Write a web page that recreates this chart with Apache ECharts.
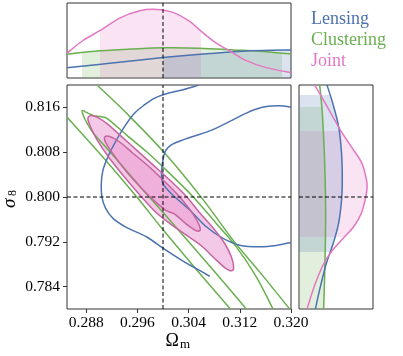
<!DOCTYPE html>
<html><head><meta charset="utf-8">
<script src="https://cdn.jsdelivr.net/npm/echarts@6/dist/echarts.min.js"></script>
<style>html,body{margin:0;padding:0;background:#fff}#c{width:403px;height:356px}</style>
</head><body><div id="c"></div>
<script>
// ---------------- data ----------------
const omegaRange = [0.285, 0.320];
const sigmaRange = [0.780, 0.820];
const omegaTicks = [0.288, 0.296, 0.304, 0.312, 0.320];
const sigmaTicks = [0.784, 0.792, 0.800, 0.808, 0.816];
const truthOmega = 0.300;
const truthSigma = 0.800;
const legendNames = ['Lensing', 'Clustering', 'Joint'];

// 2D contours [Ωm, σ8]
const lensingOuter = [[0.30563,0.82000],[0.30313,0.81916],[0.30052,0.81845],[0.29870,0.81767],[0.29714,0.81648],[0.29557,0.81499],[0.29401,0.81260],[0.29260,0.80991],[0.29141,0.80722],[0.29063,0.80484],[0.29036,0.80245],[0.29047,0.79994],[0.29104,0.79797],[0.29219,0.79618],[0.29427,0.79457],[0.29740,0.79290],[0.30005,0.79081],[0.30313,0.78854],[0.30521,0.78722],[0.30729,0.78585]];
const lensingInner = [[0.32000,0.81606],[0.31823,0.81630],[0.31615,0.81618],[0.31458,0.81570],[0.31302,0.81499],[0.31146,0.81409],[0.30990,0.81319],[0.30833,0.81230],[0.30677,0.81158],[0.30469,0.81081],[0.30286,0.81009],[0.30130,0.80931],[0.30042,0.80830],[0.30010,0.80722],[0.29984,0.80543],[0.29979,0.80364],[0.30010,0.80215],[0.30151,0.80036],[0.30417,0.79767],[0.30677,0.79469],[0.30932,0.79266],[0.31198,0.79140],[0.31510,0.79110],[0.31771,0.79134],[0.32000,0.79188]];
const clusteringOuterLow = [[0.28500,0.81427],[0.29063,0.80710],[0.29594,0.79994],[0.30005,0.79409],[0.30521,0.78705],[0.31052,0.78000]];
const clusteringOuterHigh = [[0.28969,0.82000],[0.29427,0.81499],[0.30005,0.80812],[0.30599,0.79994],[0.31094,0.79230],[0.31510,0.78663],[0.31979,0.78000]];
const clusteringInner = [[0.31302,0.78000],[0.30885,0.78561],[0.30469,0.79110],[0.30005,0.79719],[0.29688,0.80125],[0.29167,0.80812],[0.28932,0.81110],[0.28813,0.81319],[0.28750,0.81469],[0.28740,0.81546],[0.28792,0.81516],[0.28906,0.81457],[0.29036,0.81433],[0.29141,0.81391],[0.29427,0.81110],[0.29740,0.80812],[0.30005,0.80531],[0.30469,0.80006],[0.30833,0.79528],[0.31146,0.79110],[0.31458,0.78573],[0.31719,0.78000]];
const jointOuter = [[0.28833,0.81427],[0.28885,0.81457],[0.28969,0.81427],[0.29115,0.81319],[0.29323,0.81110],[0.29583,0.80842],[0.29844,0.80573],[0.30104,0.80304],[0.30365,0.80010],[0.30573,0.79720],[0.30781,0.79450],[0.30964,0.79170],[0.31068,0.78931],[0.31104,0.78740],[0.31068,0.78681],[0.30964,0.78740],[0.30807,0.78902],[0.30599,0.79130],[0.30365,0.79320],[0.30104,0.79530],[0.29896,0.79720],[0.29688,0.79970],[0.29427,0.80316],[0.29167,0.80687],[0.28969,0.81021],[0.28865,0.81260],[0.28828,0.81379]];
const jointInner = [[0.29089,0.81069],[0.29167,0.81081],[0.29313,0.80991],[0.29531,0.80782],[0.29792,0.80531],[0.30000,0.80304],[0.30208,0.80066],[0.30406,0.79797],[0.30531,0.79576],[0.30583,0.79421],[0.30521,0.79397],[0.30365,0.79516],[0.30182,0.79696],[0.30052,0.79755],[0.29896,0.79899],[0.29688,0.80125],[0.29427,0.80454],[0.29219,0.80770],[0.29104,0.80973]];

// 1D marginals for Ωm [Ωm, density]
const topLensing = [[0.28500,0.138],[0.29167,0.196],[0.30000,0.272],[0.30729,0.326],[0.31354,0.362],[0.32000,0.375]];
const topClustering = [[0.28500,0.317],[0.29010,0.362],[0.29531,0.388],[0.30052,0.402],[0.30573,0.397],[0.31094,0.375],[0.31510,0.357],[0.32000,0.321]];
const topJoint = [[0.28500,0.330],[0.28750,0.500],[0.29021,0.634],[0.29323,0.799],[0.29635,0.897],[0.29896,0.915],[0.30156,0.875],[0.30417,0.754],[0.30599,0.621],[0.30833,0.464],[0.31042,0.362],[0.31302,0.232],[0.31615,0.138],[0.32000,0.071]];
const topLensingBand = [0.30000, 0.32000];
const topClusteringBand = [0.28740, 0.31865];
const topJointBand = [0.29021, 0.30599];

// 1D marginals for σ8 [density, σ8]
const rightLensing = [[0.378,0.82000],[0.455,0.81678],[0.535,0.81260],[0.575,0.80782],[0.585,0.80304],[0.575,0.79946],[0.535,0.79528],[0.462,0.79170],[0.369,0.78812],[0.288,0.78394],[0.221,0.78000]];
const rightClustering = [[0.279,0.82000],[0.315,0.81499],[0.347,0.80603],[0.360,0.79708],[0.351,0.78812],[0.333,0.78000]];
const rightJoint = [[0.212,0.82000],[0.302,0.81797],[0.430,0.81499],[0.570,0.81170],[0.720,0.80872],[0.850,0.80603],[0.912,0.80304],[0.919,0.80155],[0.901,0.79994],[0.842,0.79708],[0.739,0.79469],[0.595,0.79260],[0.437,0.79021],[0.324,0.78782],[0.212,0.78424],[0.108,0.78000]];
const rightLensingBand = [0.79021, 0.81827];
const rightClusteringBand = [0.78000, 0.81606];
const rightJointBand = [0.79278, 0.81170];

// ---------------- styles ----------------
const COL = { lensing: '#4c72b0', clustering: '#6aaf50', joint: '#e377c2', jointEdge: '#c5659f' };
const SERIF = "'Liberation Serif', 'DejaVu Serif', serif";

function fmt(p) { return p[0].toFixed(2) + ' ' + p[1].toFixed(2); }
function bezierTail(p, closed) {
  const n = p.length;
  const get = i => closed ? p[(i + n) % n] : p[Math.max(0, Math.min(n - 1, i))];
  const segs = closed ? n : n - 1;
  let d = '';
  for (let i = 0; i < segs; i++) {
    const p0 = get(i - 1), p1 = get(i), p2 = get(i + 1), p3 = get(i + 2);
    const c1 = [p1[0] + (p2[0] - p0[0]) / 6, p1[1] + (p2[1] - p0[1]) / 6];
    const c2 = [p2[0] - (p3[0] - p1[0]) / 6, p2[1] - (p3[1] - p1[1]) / 6];
    d += ' C' + fmt(c1) + ' ' + fmt(c2) + ' ' + fmt(p2);
  }
  return d;
}
function curve(grid, pts, closed, style) {
  return {
    type: 'custom', coordinateSystem: 'cartesian2d', xAxisIndex: grid, yAxisIndex: grid,
    clip: true, silent: true, data: pts,
    renderItem(params, api) {
      if (params.dataIndex !== 0) return null;
      const px = pts.map(p => api.coord(p));
      const d = 'M' + fmt(px[0]) + bezierTail(px, closed) + (closed ? ' Z' : '');
      return { type: 'path', shape: { pathData: d }, style: Object.assign({ fill: 'none' }, style) };
    }
  };
}
function clamp01(t) { return Math.max(0, Math.min(1, t)); }
function bandStops(t1, t2, color) {
  const tr = 'rgba(255,255,255,0)';
  return [{ offset: 0, color: tr }, { offset: t1, color: tr }, { offset: t1, color: color },
          { offset: t2, color: color }, { offset: t2, color: tr }, { offset: 1, color: tr }];
}
function topFill(pts, band, color) {
  return {
    type: 'custom', coordinateSystem: 'cartesian2d', xAxisIndex: 1, yAxisIndex: 1,
    clip: true, silent: true, data: pts,
    renderItem(params, api) {
      if (params.dataIndex !== 0) return null;
      const px = pts.map(p => api.coord(p));
      const b0 = api.coord([pts[0][0], 0]), b1 = api.coord([pts[pts.length - 1][0], 0]);
      const d = 'M' + fmt(b0) + ' L' + fmt(px[0]) + bezierTail(px, false) + ' L' + fmt(b1) + ' Z';
      const L = api.coord([omegaRange[0], 0])[0], R = api.coord([omegaRange[1], 0])[0];
      const t1 = clamp01((api.coord([band[0], 0])[0] - L) / (R - L));
      const t2 = clamp01((api.coord([band[1], 0])[0] - L) / (R - L));
      const g = new echarts.graphic.LinearGradient(L, 0, R, 0, bandStops(t1, t2, color), true);
      return { type: 'path', shape: { pathData: d }, style: { fill: g, stroke: 'none' } };
    }
  };
}
function rightFill(pts, band, color) {
  return {
    type: 'custom', coordinateSystem: 'cartesian2d', xAxisIndex: 2, yAxisIndex: 2,
    clip: true, silent: true, data: pts,
    renderItem(params, api) {
      if (params.dataIndex !== 0) return null;
      const px = pts.map(p => api.coord(p));
      const b0 = api.coord([0, pts[0][1]]), b1 = api.coord([0, pts[pts.length - 1][1]]);
      const d = 'M' + fmt(b0) + ' L' + fmt(px[0]) + bezierTail(px, false) + ' L' + fmt(b1) + ' Z';
      const T = api.coord([0, sigmaRange[1]])[1], B = api.coord([0, sigmaRange[0]])[1];
      const t1 = clamp01((api.coord([0, band[1]])[1] - T) / (B - T));
      const t2 = clamp01((api.coord([0, band[0]])[1] - T) / (B - T));
      const g = new echarts.graphic.LinearGradient(0, T, 0, B, bandStops(t1, t2, color), true);
      return { type: 'path', shape: { pathData: d }, style: { fill: g, stroke: 'none' } };
    }
  };
}
const dashStyle = { stroke: '#000', lineWidth: 1, lineDash: [4, 2.5] };
function refLines(grid, vx, vy, xr, yr) {
  return {
    type: 'custom', coordinateSystem: 'cartesian2d', xAxisIndex: grid, yAxisIndex: grid,
    clip: true, silent: true, z: 5, data: [[xr[0], yr[0]]],
    renderItem(params, api) {
      const ch = [];
      if (vx !== null) {
        const a = api.coord([vx, yr[0]]), b = api.coord([vx, yr[1]]);
        ch.push({ type: 'line', shape: { x1: a[0], y1: a[1], x2: b[0], y2: b[1] }, style: dashStyle });
      }
      if (vy !== null) {
        const a = api.coord([xr[0], vy]), b = api.coord([xr[1], vy]);
        ch.push({ type: 'line', shape: { x1: a[0], y1: a[1], x2: b[0], y2: b[1] }, style: dashStyle });
      }
      return { type: 'group', children: ch };
    }
  };
}

const lw = 1.5;
const series = [
  // main panel
  curve(0, jointOuter, true, { fill: 'rgba(227,119,194,0.40)', stroke: 'none' }),
  curve(0, jointInner, true, { fill: 'rgba(227,119,194,0.30)', stroke: 'none' }),
  curve(0, clusteringOuterLow, false, { stroke: COL.clustering, lineWidth: lw }),
  curve(0, clusteringOuterHigh, false, { stroke: COL.clustering, lineWidth: lw }),
  curve(0, clusteringInner, false, { stroke: COL.clustering, lineWidth: lw }),
  curve(0, lensingOuter, false, { stroke: COL.lensing, lineWidth: lw }),
  curve(0, lensingInner, false, { stroke: COL.lensing, lineWidth: lw }),
  curve(0, jointOuter, true, { stroke: COL.jointEdge, lineWidth: lw }),
  curve(0, jointInner, true, { stroke: COL.jointEdge, lineWidth: lw }),
  refLines(0, truthOmega, truthSigma, omegaRange, sigmaRange),
  // top panel
  topFill(topClustering, topClusteringBand, 'rgba(106,175,80,0.2)'),
  topFill(topJoint, topJointBand, 'rgba(227,119,194,0.2)'),
  topFill(topLensing, topLensingBand, 'rgba(76,114,176,0.2)'),
  curve(1, topClustering, false, { stroke: COL.clustering, lineWidth: lw }),
  curve(1, topLensing, false, { stroke: COL.lensing, lineWidth: lw }),
  curve(1, topJoint, false, { stroke: COL.joint, lineWidth: lw }),
  refLines(1, truthOmega, null, omegaRange, [0, 1]),
  // right panel
  rightFill(rightClustering, rightClusteringBand, 'rgba(106,175,80,0.2)'),
  rightFill(rightJoint, rightJointBand, 'rgba(227,119,194,0.2)'),
  rightFill(rightLensing, rightLensingBand, 'rgba(76,114,176,0.2)'),
  curve(2, rightClustering, false, { stroke: COL.clustering, lineWidth: lw }),
  curve(2, rightLensing, false, { stroke: COL.lensing, lineWidth: lw }),
  curve(2, rightJoint, false, { stroke: COL.joint, lineWidth: lw }),
  refLines(2, null, truthSigma, [0, 1], sigmaRange)
];

const gridBase = { show: true, borderColor: '#333', borderWidth: 1, backgroundColor: 'transparent', containLabel: false, outerBoundsMode: 'none' };
const labelStyle = { fontFamily: SERIF, fontSize: 15.5, color: '#000' };
const hidden = { axisLine: { show: false }, axisTick: { show: false }, axisLabel: { show: false }, splitLine: { show: false } };

const option = {
  animation: false,
  backgroundColor: '#fff',
  grid: [
    Object.assign({ left: 67, top: 85, width: 224, height: 224 }, gridBase),
    Object.assign({ left: 67, top: 3, width: 224, height: 75 }, gridBase),
    Object.assign({ left: 299, top: 85, width: 74, height: 224 }, gridBase)
  ],
  xAxis: [
    { gridIndex: 0, type: 'value', min: omegaRange[0], max: omegaRange[1],
      axisLine: { show: false }, splitLine: { show: false },
      axisTick: { show: true, customValues: omegaTicks, length: 4, lineStyle: { color: '#333' } },
      axisLabel: Object.assign({ show: true, customValues: omegaTicks, margin: 6, formatter: v => v.toFixed(3) }, labelStyle) },
    Object.assign({ gridIndex: 1, type: 'value', min: omegaRange[0], max: omegaRange[1] }, hidden),
    Object.assign({ gridIndex: 2, type: 'value', min: 0, max: 1 }, hidden)
  ],
  yAxis: [
    { gridIndex: 0, type: 'value', min: sigmaRange[0], max: sigmaRange[1],
      axisLine: { show: false }, splitLine: { show: false },
      axisTick: { show: true, customValues: sigmaTicks, length: 4, lineStyle: { color: '#333' } },
      axisLabel: Object.assign({ show: true, customValues: sigmaTicks, margin: 7, formatter: v => v.toFixed(3) }, labelStyle) },
    Object.assign({ gridIndex: 1, type: 'value', min: 0, max: 1 }, hidden),
    Object.assign({ gridIndex: 2, type: 'value', min: sigmaRange[0], max: sigmaRange[1] }, hidden)
  ],
  graphic: [
    { type: 'text', x: 311, y: 19, style: { text: legendNames[0], fill: COL.lensing, font: '18px ' + SERIF, verticalAlign: 'middle' } },
    { type: 'text', x: 311, y: 40, style: { text: legendNames[1], fill: COL.clustering, font: '18px ' + SERIF, verticalAlign: 'middle' } },
    { type: 'text', x: 311, y: 61, style: { text: legendNames[2], fill: COL.joint, font: '18px ' + SERIF, verticalAlign: 'middle' } },
    { type: 'text', x: 179, y: 341, style: { text: 'Ω', fill: '#000', font: '18px ' + SERIF, align: 'right', verticalAlign: 'middle' } },
    { type: 'text', x: 180, y: 345, style: { text: 'm', fill: '#000', font: '13px ' + SERIF, align: 'left', verticalAlign: 'middle' } },
    { type: 'text', x: 10, y: 208, rotation: Math.PI / 2, style: { text: 'σ', fill: '#000', font: 'italic 19px ' + SERIF, align: 'left', verticalAlign: 'middle' } },
    { type: 'text', x: 13, y: 196, rotation: Math.PI / 2, style: { text: '8', fill: '#000', font: '12px ' + SERIF, align: 'left', verticalAlign: 'middle' } }
  ],
  series: series
};
const chart = echarts.init(document.getElementById('c'), null, { renderer: 'canvas' });
chart.setOption(option);
</script>
</body></html>
